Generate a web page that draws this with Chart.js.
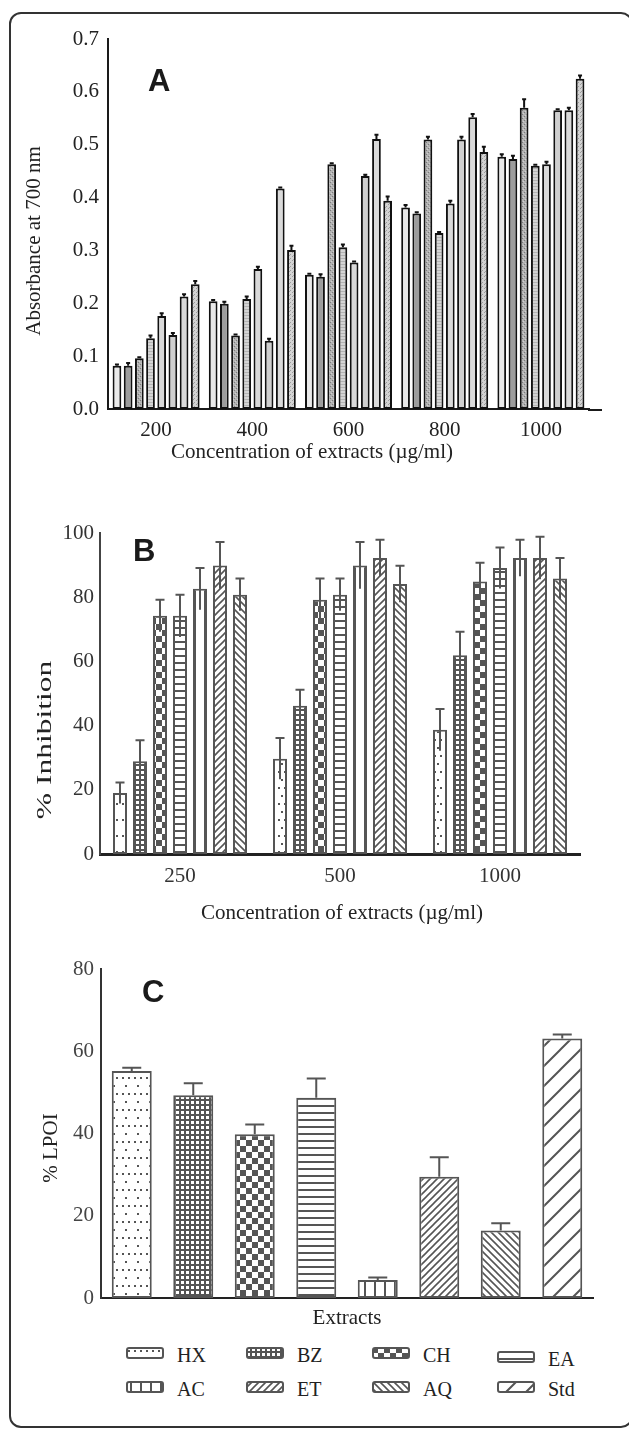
<!DOCTYPE html>
<html><head><meta charset="utf-8">
<script src="https://cdn.jsdelivr.net/npm/chart.js@4.4.1/dist/chart.umd.min.js"></script>
<style>
html,body{margin:0;padding:0;background:#fff;width:629px;height:1433px;overflow:hidden;position:relative;}
#frame{position:absolute;left:9px;top:12px;width:624px;height:1416px;border:2px solid #333;border-radius:12px;box-sizing:border-box;}
.cv{position:absolute;left:0;}
.letter{position:absolute;font-family:"Liberation Sans",Arial,sans-serif;font-weight:bold;font-size:31px;line-height:31px;color:#1a1a1a;}
.ttl{position:absolute;font-family:"Liberation Serif","Times New Roman",serif;font-size:21px;color:#222;text-align:center;white-space:nowrap;width:400px;height:30px;line-height:30px;}
.leg{position:absolute;font-family:"Liberation Serif","Times New Roman",serif;font-size:20px;line-height:20px;color:#222;white-space:nowrap;}
.sw{position:absolute;}
</style></head>
<body>
<div id="frame"></div>
<canvas id="cA" class="cv" width="629" height="470" style="top:0px"></canvas>
<canvas id="cB" class="cv" width="629" height="444" style="top:480px"></canvas>
<canvas id="cC" class="cv" width="629" height="400" style="top:930px"></canvas>
<div class="letter" style="left:148px;top:65px">A</div>
<div class="letter" style="left:133px;top:535px">B</div>
<div class="letter" style="left:142px;top:976px">C</div>
<div id="titles"></div>
<div id="legend"></div>
<script>
// ---------- DATA ----------
// Panel A: reducing power (absorbance at 700 nm), 8 bars per concentration
const concA = ['200','400','600','800','1000'];
const absA1 = [0.082,0.204,0.254,0.381,0.477];
const absA2 = [0.082,0.199,0.250,0.370,0.473];
const absA3 = [0.096,0.139,0.463,0.510,0.570];
const absA4 = [0.134,0.208,0.306,0.333,0.460];
const absA5 = [0.176,0.265,0.277,0.389,0.463];
const absA6 = [0.140,0.129,0.441,0.510,0.565];
const absA7 = [0.213,0.417,0.511,0.552,0.565];
const absA8 = [0.236,0.301,0.394,0.486,0.625];
const errA1 = [0.002,0.002,0.002,0.005,0.005];
const errA2 = [0.005,0.004,0.005,0.002,0.006];
const errA3 = [0.002,0.002,0.002,0.005,0.016];
const errA4 = [0.005,0.005,0.005,0.002,0.002];
const errA5 = [0.005,0.004,0.002,0.005,0.005];
const errA6 = [0.004,0.004,0.002,0.005,0.002];
const errA7 = [0.004,0.002,0.008,0.006,0.005];
const errA8 = [0.006,0.008,0.008,0.010,0.006];
const ticksA = [0,0.1,0.2,0.3,0.4,0.5,0.6,0.7];

// Panel B: % inhibition per extract at 3 concentrations
const concB = ['250','500','1000'];
const inhHX = [19.0,29.7,38.7]; const errHX = [3.3,6.4,6.5];
const inhBZ = [28.9,46.2,61.9]; const errBZ = [6.5,5.0,7.3];
const inhCH = [74.2,79.2,84.9]; const errCH = [5.0,6.6,5.8];
const inhEA = [74.2,80.8,89.1]; const errEA = [6.6,5.0,6.4];
const inhAC = [82.6,89.9,92.2]; const errAC = [6.5,7.3,5.7];
const inhET = [89.9,92.2,92.2]; const errET = [7.3,5.7,6.6];
const inhAQ = [80.8,84.1,85.8]; const errAQ = [5.0,5.7,6.4];

// Panel C: % LPOI per extract
const extracts = ['HX','BZ','CH','EA','AC','ET','AQ','Std'];
const lpoi    = [55.2,49.3,39.8,48.7,4.4,29.5,16.4,63.1];
const lpoiErr = [0.8,2.9,2.4,4.7,0.6,4.7,1.8,1.0];

// ---------- PATTERNS ----------
const DK = '#555';
function mk(w,h,fn){const c=document.createElement('canvas');c.width=w;c.height=h;const g=c.getContext('2d');fn(g,w,h);return c;}
function solid(col){return mk(2,2,g=>{g.fillStyle=col;g.fillRect(0,0,2,2);});}
function diag(s,back,lw){return mk(s,s,g=>{g.fillStyle='#fff';g.fillRect(0,0,s,s);g.strokeStyle=DK;g.lineWidth=lw;g.beginPath();
  if(!back){g.moveTo(0,s);g.lineTo(s,0);g.moveTo(-s*0.25,s*0.25);g.lineTo(s*0.25,-s*0.25);g.moveTo(s*0.75,s*1.25);g.lineTo(s*1.25,s*0.75);}
  else{g.moveTo(0,0);g.lineTo(s,s);g.moveTo(-s*0.25,s*0.75);g.lineTo(s*0.25,s*1.25);g.moveTo(s*0.75,-s*0.25);g.lineTo(s*1.25,s*0.25);}
  g.stroke();});}
const tiles = {
  HX: mk(12,16,g=>{g.fillStyle='#fff';g.fillRect(0,0,12,16);g.fillStyle=DK;[[2,3],[8,3],[5,11]].forEach(([x,y])=>g.fillRect(x,y,2,2));}),
  BZ: mk(5,5,g=>{g.fillStyle=DK;g.fillRect(0,0,5,5);g.fillStyle='#fff';g.fillRect(1,1,3,3);}),
  CH: mk(12,12,g=>{g.fillStyle='#fff';g.fillRect(0,0,12,12);g.fillStyle=DK;g.fillRect(0,0,6,6);g.fillRect(6,6,6,6);}),
  EA: mk(4,7,g=>{g.fillStyle='#fff';g.fillRect(0,0,4,7);g.fillStyle=DK;g.fillRect(0,0,4,2);}),
  AC: mk(10,4,g=>{g.fillStyle='#fff';g.fillRect(0,0,10,4);g.fillStyle=DK;g.fillRect(4,0,2,4);}),
  ET: diag(7,false,1.6),
  AQ: diag(7,true,1.6),
  Std: diag(20,false,2)
};
const tilesA = [
  solid('#e9e9e9'),
  solid('#9d9d9d'),
  mk(4,4,g=>{g.fillStyle='#b2b2b2';g.fillRect(0,0,4,4);g.fillStyle='#7c7c7c';g.fillRect(0,0,1,1);g.fillRect(2,2,1,1);g.fillStyle='#d0d0d0';g.fillRect(1,3,1,1);g.fillRect(3,1,1,1);}),
  mk(2,3,g=>{g.fillStyle='#d4d4d4';g.fillRect(0,0,2,3);g.fillStyle='#b3b3b3';g.fillRect(0,0,2,1);}),
  solid('#d9d9d9'),
  solid('#cfcfcf'),
  solid('#dadada'),
  mk(4,4,g=>{g.fillStyle='#d3d3d3';g.fillRect(0,0,4,4);g.fillStyle='#9c9c9c';g.fillRect(0,0,1,1);g.fillRect(2,2,1,1);g.fillRect(1,3,1,1);})
];
const pctx = document.createElement('canvas').getContext('2d');
const pat = t => pctx.createPattern(t,'repeat');

// ---------- PLUGINS ----------
const errBars = {
  id:'errBars',
  afterDatasetsDraw(chart,args,o){
    const {ctx} = chart; const ys = chart.scales.y;
    chart.data.datasets.forEach((ds,i)=>{
      if(!ds.errors) return;
      const meta = chart.getDatasetMeta(i);
      meta.data.forEach((bar,j)=>{
        const v = ds.data[j], e = ds.errors[j];
        const yt = ys.getPixelForValue(v+e), yb = ys.getPixelForValue(o.both ? v-e : v);
        ctx.save(); ctx.strokeStyle=o.color; ctx.lineWidth=o.width; ctx.lineCap='butt';
        ctx.beginPath(); ctx.moveTo(bar.x,yb); ctx.lineTo(bar.x,yt);
        ctx.moveTo(bar.x-o.cap/2,yt); ctx.lineTo(bar.x+o.cap/2,yt); ctx.stroke(); ctx.restore();
      });
    });
  }
};
const axisExt = {
  id:'axisExt',
  afterDraw(chart,args,o){
    if(!o.px) return;
    const {ctx} = chart; const xs = chart.scales.x;
    ctx.save(); ctx.strokeStyle=o.color; ctx.lineWidth=o.width;
    ctx.beginPath(); ctx.moveTo(xs.right-1, xs.top+o.width/2); ctx.lineTo(xs.right+o.px, xs.top+o.width/2); ctx.stroke(); ctx.restore();
  }
};

const serif = '"Liberation Serif","Times New Roman",serif';

function baseOpts(o){
  return {
    responsive:false, animation:false,
    layout:{padding:{top:o.top,right:o.right,left:0,bottom:0}},
    plugins:{legend:{display:false},tooltip:{enabled:false},errBars:o.err,axisExt:o.ext||{}},
    scales:{
      x:{type:'category',offset:true,
         grid:{display:false,drawTicks:false},
         border:{display:true,color:o.xAxisColor,width:o.xAxisWidth},
         ticks:{display:o.xTicks,padding:o.xPad,color:o.tickColor,font:{family:serif,size:21}},
         afterFit(s){s.height=o.xH;}},
      y:{min:o.min,max:o.max,
         grid:{display:false,drawTicks:false},
         border:{display:true,color:o.yAxisColor,width:o.yAxisWidth},
         ticks:{stepSize:o.step,padding:o.yPad,color:o.tickColor,font:{family:serif,size:21},callback:o.fmt},
         afterFit(s){s.width=o.yW;}}
    }
  };
}

// ---------- CHART A ----------
const seriesA = [absA1,absA2,absA3,absA4,absA5,absA6,absA7,absA8];
const errsA = [errA1,errA2,errA3,errA4,errA5,errA6,errA7,errA8];
new Chart(document.getElementById('cA'),{
  type:'bar',
  data:{labels:concA,datasets:seriesA.map((d,i)=>({data:d,errors:errsA[i],backgroundColor:pat(tilesA[i]),borderColor:'#111',borderWidth:2,borderSkipped:false,categoryPercentage:0.93,barPercentage:0.78}))},
  options:baseOpts({top:39,right:40,min:0,max:ticksA[ticksA.length-1],step:0.1,fmt:v=>Number(v).toFixed(1),
    xH:61,xPad:9,yW:108,yPad:9,xTicks:true,tickColor:'#222',xAxisColor:'#1a1a1a',xAxisWidth:2,yAxisColor:'#1a1a1a',yAxisWidth:2,
    err:{color:'#111',width:2,cap:4,both:false},ext:{px:13,color:'#1a1a1a',width:2}}),
  plugins:[errBars,axisExt]
});

// ---------- CHART B ----------
const seriesB = [['HX',inhHX,errHX],['BZ',inhBZ,errBZ],['CH',inhCH,errCH],['EA',inhEA,errEA],['AC',inhAC,errAC],['ET',inhET,errET],['AQ',inhAQ,errAQ]];
new Chart(document.getElementById('cB'),{
  type:'bar',
  data:{labels:concB,datasets:seriesB.map(([n,d,e])=>({label:n,data:d,errors:e,backgroundColor:pat(tiles[n]),borderColor:DK,borderWidth:2,borderSkipped:false,categoryPercentage:0.875,barPercentage:0.7}))},
  options:baseOpts({top:53,right:49,min:0,max:100,step:20,fmt:v=>v,
    xH:70,xPad:10,yW:100,yPad:6,xTicks:true,tickColor:'#333',xAxisColor:'#222',xAxisWidth:3,yAxisColor:'#444',yAxisWidth:2,
    err:{color:DK,width:2,cap:9,both:true}}),
  plugins:[errBars]
});

// ---------- CHART C ----------
new Chart(document.getElementById('cC'),{
  type:'bar',
  data:{labels:extracts,datasets:[{data:lpoi,errors:lpoiErr,backgroundColor:extracts.map(n=>pat(tiles[n])),borderColor:DK,borderWidth:2,borderSkipped:false,categoryPercentage:1,barPercentage:0.65}]},
  options:baseOpts({top:39,right:36,min:0,max:80,step:20,fmt:v=>v,
    xH:32,xPad:0,yW:101,yPad:7,xTicks:false,tickColor:'#444',xAxisColor:'#222',xAxisWidth:2,yAxisColor:'#333',yAxisWidth:2,
    err:{color:DK,width:2,cap:19,both:false}}),
  plugins:[errBars]
});

// ---------- AXIS TITLES (real text) ----------
const titles = [
  ['Absorbance at 700 nm',33,241,true,1],
  ['Concentration of extracts (\u00b5g/ml)',312,451,false,1],
  ['% Inhibition',44,740,true,1.5],
  ['Concentration of extracts (\u00b5g/ml)',342,912,false,1],
  ['% LPOI',50,1148,true,1],
  ['Extracts',347,1317,false,1]
];
const tdiv = document.getElementById('titles');
titles.forEach(([t,cx,cy,rot,sx])=>{
  const d=document.createElement('div');d.className='ttl';d.textContent=t;
  d.style.left=(cx-200)+'px';d.style.top=(cy-15)+'px';
  if(rot) d.style.transform='rotate(-90deg) scaleX('+sx+')';
  tdiv.appendChild(d);
});

// ---------- LEGEND ----------
const legCols = [126,246,372,497];
const legRows = [1348,1382];
const ldiv = document.getElementById('legend');
extracts.forEach((n,i)=>{
  const c=i%4, r=Math.floor(i/4);
  const dy = (r===0 && c===3) ? 4 : 0;
  const cv=document.createElement('canvas');cv.width=38;cv.height=12;cv.className='sw';
  cv.style.left=legCols[c]+'px';cv.style.top=(legRows[r]+dy-1)+'px';
  const g=cv.getContext('2d');
  g.fillStyle=g.createPattern(tiles[n],'repeat');g.fillRect(1,1,36,10);
  g.strokeStyle=DK;g.lineWidth=2;g.beginPath();
  if(g.roundRect) g.roundRect(1,1,36,10,2); else g.rect(1,1,36,10);
  g.stroke();
  ldiv.appendChild(cv);
  const t=document.createElement('div');t.className='leg';t.textContent=n;
  t.style.left=(legCols[c]+51)+'px';t.style.top=(legRows[r]+dy-3)+'px';
  ldiv.appendChild(t);
});
</script>
</body></html>
